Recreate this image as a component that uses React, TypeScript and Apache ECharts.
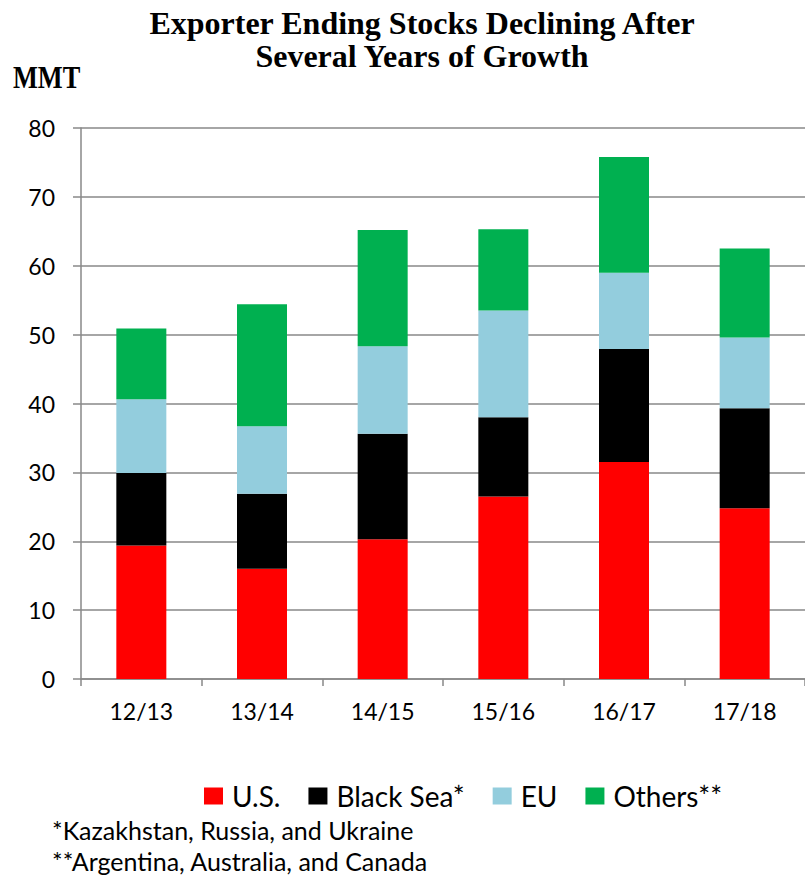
import React, { useEffect, useRef } from "react";
import * as echarts from "echarts";

const categories = ["12/13", "13/14", "14/15", "15/16", "16/17", "17/18"];
const usStocks = [19.4, 16.0, 20.3, 26.5, 31.5, 24.8];
const blackSeaStocks = [10.5, 10.9, 15.3, 11.5, 16.4, 14.5];
const euStocks = [10.7, 9.8, 12.7, 15.5, 11.1, 10.3];
const otherStocks = [10.3, 17.7, 16.9, 11.8, 16.8, 12.9];

const seriesNames = ["U.S.", "Black Sea*", "EU", "Others**"];
const seriesColors = ["#FF0000", "#000000", "#93CDDD", "#00B050"];
const seriesValues = [usStocks, blackSeaStocks, euStocks, otherStocks];

const titleLines = ["Exporter Ending Stocks Declining After", "Several Years of Growth"];
const unitLabel = "MMT";
const footnotes = ["*Kazakhstan, Russia, and Ukraine", "**Argentina, Australia, and Canada"];

const AXIS_GRAY = "#898989";
const SANS = "Lato, 'Open Sans', sans-serif";
const SERIF = "'Liberation Serif', 'Times New Roman', serif";

export default function App() {
  const ref = useRef<HTMLDivElement>(null);

  useEffect(() => {
    if (!ref.current) return;
    const chart = echarts.init(ref.current, undefined, { renderer: "svg" });
    chart.setOption({
      animation: false,
      backgroundColor: "#ffffff",
      grid: { left: 81, top: 128, width: 728, height: 551, containLabel: false },
      legend: {
        data: seriesNames,
        left: 199,
        top: 777,
        itemWidth: 19,
        itemHeight: 17,
        itemGap: 28,
        icon: "rect",
        textStyle: {
          fontFamily: SANS,
          fontSize: 28,
          color: "#000",
          lineHeight: 28,
          padding: [0, 0, 0, 4],
        },
      },
      xAxis: {
        type: "category",
        data: categories,
        boundaryGap: true,
        axisLine: { show: true, lineStyle: { color: AXIS_GRAY, width: 1.5 } },
        axisTick: { show: true, length: 7, alignWithLabel: false, lineStyle: { color: AXIS_GRAY, width: 1.5 } },
        axisLabel: { fontFamily: SANS, fontSize: 23, color: "#000", margin: 20 },
        splitLine: { show: false },
      },
      yAxis: {
        type: "value",
        min: 0,
        max: 80,
        interval: 10,
        axisLine: { show: true, lineStyle: { color: AXIS_GRAY, width: 1.5 } },
        axisTick: { show: true, length: 8, lineStyle: { color: AXIS_GRAY, width: 1.5 } },
        axisLabel: { fontFamily: SANS, fontSize: 23, color: "#000", margin: 26 },
        splitLine: { show: true, lineStyle: { color: AXIS_GRAY, width: 1.5 } },
      },
      series: seriesNames.map((name, i) => ({
        name,
        type: "bar",
        stack: "total",
        barWidth: 50,
        data: seriesValues[i],
        itemStyle: { color: seriesColors[i] },
      })),
      graphic: [
        {
          type: "text",
          x: 422,
          y: 23,
          style: {
            text: titleLines[0],
            font: `bold 32px ${SERIF}`,
            fill: "#000",
            align: "center",
            verticalAlign: "middle",
          },
        },
        {
          type: "text",
          x: 422,
          y: 56,
          style: {
            text: titleLines[1],
            font: `bold 32px ${SERIF}`,
            fill: "#000",
            align: "center",
            verticalAlign: "middle",
          },
        },
        {
          type: "text",
          x: 13,
          y: 77,
          scaleX: 0.85,
          style: {
            text: unitLabel,
            font: `bold 31px ${SERIF}`,
            fill: "#000",
            align: "left",
            verticalAlign: "middle",
          },
        },
        {
          type: "text",
          x: 52,
          y: 830,
          style: {
            text: footnotes[0],
            font: `25px ${SANS}`,
            fill: "#000",
            align: "left",
            verticalAlign: "middle",
          },
        },
        {
          type: "text",
          x: 52,
          y: 861,
          style: {
            text: footnotes[1],
            font: `25px ${SANS}`,
            fill: "#000",
            align: "left",
            verticalAlign: "middle",
          },
        },
      ],
    });
    return () => chart.dispose();
  }, []);

  return (
    <div
      ref={ref}
      style={{ position: "absolute", left: 0, top: 0, width: 805, height: 875, background: "#fff" }}
    />
  );
}
